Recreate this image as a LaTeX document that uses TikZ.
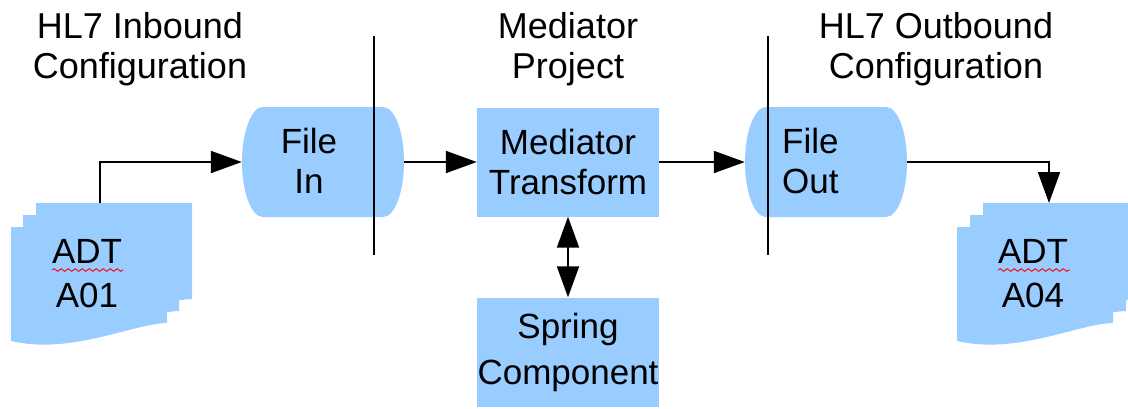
\documentclass[tikz,border=0pt]{standalone}
\usepackage{fontspec}
\setmainfont{Liberation Sans}
\usetikzlibrary{arrows.meta,decorations.pathmorphing}
\definecolor{fillblue}{HTML}{99CCFF}
\newcommand\docpage[2]{%
  \begin{scope}[shift={(#1,#2)}]
    \fill[fillblue] (0,0) -- (156,0) -- (156,96)
      .. controls (120,97) and (60,128) .. (0,114) -- cycle;
  \end{scope}}
\newcommand\fileshape[2]{%
  \begin{scope}[shift={(#1,#2)}]
    \fill[fillblue] (-60,-55) -- (60,-55)
      arc[start angle=-90,end angle=90,x radius=21,y radius=55]
      -- (-60,55)
      arc[start angle=90,end angle=270,x radius=21,y radius=55] -- cycle;
  \end{scope}}
\begin{document}
\begin{tikzpicture}[x=1pt,y=-1pt,
  lbl/.style={align=center,inner sep=0pt,font=\fontsize{36}{40}\selectfont},
  boxnode/.style={fill=fillblue,minimum width=182pt,minimum height=109pt,
    inner sep=0pt,align=center,font=\fontsize{35}{40}\selectfont},
  holder/.style={minimum width=162pt,minimum height=110pt,inner sep=0pt},
  txt/.style={align=center,inner sep=0pt,font=\fontsize{35}{40}\selectfont},
  doctxt/.style={align=center,inner sep=0pt,font=\fontsize{35}{44}\selectfont},
  arr/.style={line width=2pt,-{Triangle[length=31pt,width=22pt]}},
  dblarr/.style={line width=2pt,{Triangle[length=31pt,width=22pt]}-{Triangle[length=31pt,width=22pt]}},
  divider/.style={line width=2pt},
  squiggle/.style={red,line width=0.9pt,decorate,decoration={snake,amplitude=1.3pt,segment length=7pt}}
]
\useasboundingbox (0,0) rectangle (1128,408);
\clip (0,0) rectangle (1128,408);

% labels
\node[lbl] (inlbl) at (140,49.5) {HL7 Inbound\\Configuration};
\node[lbl] (medlbl) at (568,49.5) {Mediator\\Project};
\node[lbl] (outlbl) at (936,49.5) {HL7 Outbound\\Configuration};

% documents
\docpage{36}{203}\docpage{23}{215}\docpage{11}{227}
\docpage{983}{203}\docpage{970}{215}\docpage{957}{227}
\node[doctxt] (doc1) at (87,273.5) {ADT\\A01};
\node[doctxt] (doc2) at (1033,273.5) {ADT\\A04};
\draw[squiggle] (52,270) -- (123,270);
\draw[squiggle] (998,270) -- (1070,270);
\coordinate (d1top) at (100,203);
\coordinate (d2top) at (1049,203);

% file shapes
\fileshape{323}{162}
\fileshape{826}{162}
\node[holder] (filein) at (323,162) {};
\node[holder] (fileout) at (826,162) {};
\node[txt] (filintxt) at (309,161) {File\\In};
\node[txt,anchor=west,align=left] (filouttxt) at (782,161) {File\\Out};

% mediator boxes
\node[boxnode] (med) at (568,162) {Mediator\\Transform};
\node[boxnode,font=\fontsize{35}{46}\selectfont] (spring) at (568,352) {Spring\\Component};

% dividers
\coordinate (v1t) at (374,36); \coordinate (v1b) at (374,255);
\coordinate (v2t) at (768,36); \coordinate (v2b) at (768,255);
\draw[divider] (v1t) -- (v1b);
\draw[divider] (v2t) -- (v2b);

% connectors
\draw[arr] (d1top) |- (filein.west);
\draw[arr] (filein.east) -- (med.west);
\draw[arr] (med.east) -- (fileout.west);
\draw[arr] (fileout.east) -| (d2top);
\draw[dblarr] (med.south) -- (spring.north);
\end{tikzpicture}
\end{document}
